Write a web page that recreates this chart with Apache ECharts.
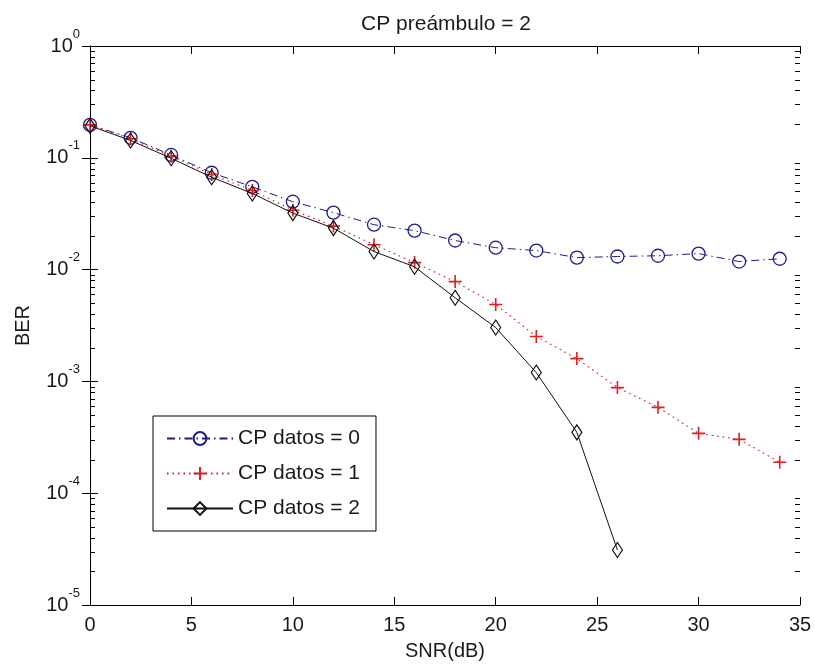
<!DOCTYPE html>
<html>
<head>
<meta charset="utf-8">
<script src="https://cdn.jsdelivr.net/npm/echarts@6/dist/echarts.min.js"></script>
<style>
html,body{margin:0;padding:0;background:#fff;}
#chart{width:815px;height:666px;}
</style>
</head>
<body>
<div id="chart"></div>
<script>
const titleText = 'CP preámbulo = 2';
const xName = 'SNR(dB)';
const yName = 'BER';
const seriesNames = ['CP datos = 0', 'CP datos = 1', 'CP datos = 2'];
const snr = [0, 2, 4, 6, 8, 10, 12, 14, 16, 18, 20, 22, 24, 26, 28, 30, 32, 34];
const ber0 = [0.197, 0.151, 0.106, 0.0735, 0.055, 0.0405, 0.0323, 0.0252, 0.0223, 0.0182, 0.0157, 0.0148, 0.0128, 0.0131, 0.0133, 0.0139, 0.0118, 0.0125];
const ber1 = [0.197, 0.148, 0.103, 0.071, 0.051, 0.034, 0.0245, 0.0167, 0.01155, 0.00781, 0.00487, 0.00252, 0.0016, 0.00088, 0.000586, 0.000343, 0.000303, 0.000189];
const ber2 = [0.193, 0.143, 0.099, 0.067, 0.048, 0.032, 0.0235, 0.0145, 0.0106, 0.0056, 0.00303, 0.0012, 0.00035, 0.000031];
const xTicks = [0, 5, 10, 15, 20, 25, 30, 35];
const yDecades = [-5, -4, -3, -2, -1, 0];

const minorVals = [];
for (let d = yDecades[0]; d < yDecades[yDecades.length - 1]; d++) {
  for (let k = 2; k <= 9; k++) minorVals.push([0, k * Math.pow(10, d)]);
}

const pair = (ys) => ys.map((v, i) => [snr[i], v]);
const blue = '#1c1c8c', red = '#dd1f26', black = '#111111';
const txt = '#1a1a1a';
const font = '"Liberation Sans", Arial, sans-serif';

const chart = echarts.init(document.getElementById('chart'), null, {renderer: 'canvas'});
const yLabel = {
  show: true,
  margin: 10,
  formatter: (v) => '{b|10}{s|' + Math.round(Math.log10(v)) + '}',
  rich: {
    b: {fontSize: 20, fontFamily: font, color: txt, lineHeight: 20, verticalAlign: 'middle'},
    s: {fontSize: 13, fontFamily: font, color: txt, lineHeight: 13, padding: [0, 0, 24, 0], verticalAlign: 'middle'}
  }
};
chart.setOption({
  backgroundColor: '#fff',
  animation: false,
  title: {
    text: titleText, left: 441, top: 9, textAlign: 'center',
    textStyle: {fontSize: 21, fontWeight: 'normal', fontFamily: font, color: txt}
  },
  grid: {left: 90, right: 15, top: 46, bottom: 60},
  legend: {
    data: seriesNames,
    orient: 'vertical',
    left: 153, top: 416,
    padding: [12, 16, 12, 13],
    itemWidth: 66, itemHeight: 16, itemGap: 14,
    backgroundColor: '#fff', borderColor: '#000', borderWidth: 1,
    textStyle: {fontSize: 21, fontFamily: font, color: txt},
    itemStyle: {color: 'transparent'}
  },
  xAxis: [{
    type: 'value', min: 0, max: 35, interval: 5,
    name: xName, nameLocation: 'middle', nameGap: 36,
    nameTextStyle: {fontSize: 20, fontFamily: font, color: txt},
    axisLine: {show: true, lineStyle: {color: '#000', width: 1}},
    axisTick: {show: true, inside: true, length: 8, lineStyle: {color: '#000'}},
    axisLabel: {fontSize: 20, fontFamily: font, color: txt, margin: 10},
    splitLine: {show: false}
  }, {
    type: 'value', min: 0, max: 35, interval: 5, position: 'top',
    axisLine: {show: true, lineStyle: {color: '#000', width: 1}},
    axisTick: {show: true, inside: true, length: 8, lineStyle: {color: '#000'}},
    axisLabel: {show: false}, splitLine: {show: false}
  }],
  yAxis: [{
    type: 'log', logBase: 10, min: 1e-5, max: 1,
    name: yName, nameLocation: 'middle', nameGap: 57,
    nameTextStyle: {fontSize: 20, fontFamily: font, color: txt},
    axisLine: {show: true, lineStyle: {color: '#000', width: 1}},
    axisTick: {show: true, inside: true, length: 8, lineStyle: {color: '#000'}},
    axisLabel: yLabel,
    splitLine: {show: false}
  }, {
    type: 'log', logBase: 10, min: 1e-5, max: 1, position: 'right',
    axisLine: {show: true, lineStyle: {color: '#000', width: 1}},
    axisTick: {show: true, inside: true, length: 8, lineStyle: {color: '#000'}},
    axisLabel: {show: false}, splitLine: {show: false}
  }],
  series: [{
    name: 'minor', type: 'custom', silent: true, xAxisIndex: 0, yAxisIndex: 0,
    data: minorVals,
    renderItem: function (params, api) {
      const cs = params.coordSys;
      const p = api.coord([api.value(0), api.value(1)]);
      const y = Math.round(p[1]) + 0.5;
      return {
        type: 'group',
        children: [
          {type: 'line', shape: {x1: cs.x, y1: y, x2: cs.x + 5, y2: y}, style: {stroke: '#000', lineWidth: 1}},
          {type: 'line', shape: {x1: cs.x + cs.width - 5, y1: y, x2: cs.x + cs.width, y2: y}, style: {stroke: '#000', lineWidth: 1}}
        ]
      };
    },
    z: 1
  }, {
    name: seriesNames[0], type: 'line', data: pair(ber0),
    symbol: 'circle', symbolSize: 13, showAllSymbol: true,
    lineStyle: {color: blue, width: 1, type: [8, 4, 1.5, 4]},
    itemStyle: {color: 'transparent', borderColor: blue, borderWidth: 1.3},
    z: 3
  }, {
    name: seriesNames[1], type: 'line', data: pair(ber1),
    symbol: 'path://M6,0L6,12M0,6L12,6', symbolSize: 13, showAllSymbol: true,
    lineStyle: {color: red, width: 1.2, type: [1.5, 4]},
    itemStyle: {color: 'transparent', borderColor: red, borderWidth: 1.6},
    z: 4
  }, {
    name: seriesNames[2], type: 'line', data: pair(ber2),
    symbol: 'diamond', symbolSize: [10, 15], showAllSymbol: true,
    lineStyle: {color: black, width: 1, type: 'solid'},
    itemStyle: {color: 'transparent', borderColor: black, borderWidth: 1.2},
    z: 5
  }]
});
</script>
</body>
</html>
